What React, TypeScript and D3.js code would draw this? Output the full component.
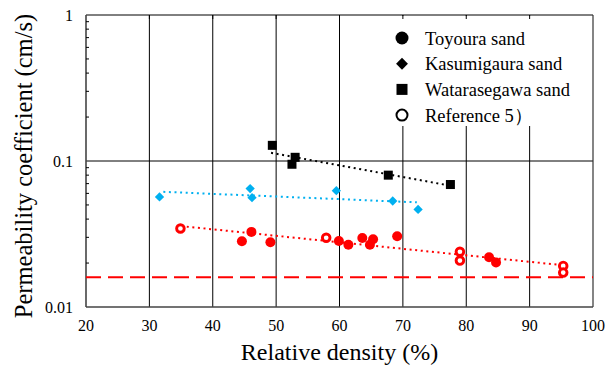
import * as d3 from "d3";
import { useRef, useEffect } from "react";

// Toyoura sand (filled red circles): [relative density %, k cm/s]
const toyoura: [number, number][] = [
  [44.6, 0.0282], [46.1, 0.0327], [49.1, 0.0278], [59.9, 0.0283],
  [61.4, 0.0267], [63.6, 0.0297], [64.8, 0.0267], [65.3, 0.0291],
  [69.1, 0.0305], [83.6, 0.0219], [84.7, 0.0202],
];
// Reference 5) (open red circles)
const reference5: [number, number][] = [
  [34.9, 0.0345], [57.9, 0.0298], [79.0, 0.0239], [79.0, 0.0208],
  [95.3, 0.0191], [95.3, 0.0172],
];
const kasumigaura: [number, number][] = [
  [31.6, 0.0567], [45.9, 0.0647], [46.2, 0.0561], [59.5, 0.0626],
  [68.4, 0.0532], [72.4, 0.0466],
];
const watarasegawa: [number, number][] = [
  [49.4, 0.128], [53.0, 0.106], [52.5, 0.095], [67.7, 0.080], [77.5, 0.069],
];
// trend lines (start, end)
const trendRed: [number, number][] = [[35.9, 0.0355], [94.9, 0.0194]];
const trendBlue: [number, number][] = [[32.2, 0.0615], [72.2, 0.0521]];
const trendBlack: [number, number][] = [[49.2, 0.1138], [76.8, 0.0686]];
const limitK = 0.016;

const xTicks = [20, 30, 40, 50, 60, 70, 80, 90, 100];
const yTicks = [0.01, 0.1, 1];
const legendItems = ["Toyoura sand", "Kasumigaura sand", "Watarasegawa sand", "Reference 5\uFF09"];

const RED = "#ff0000";
const BLUE = "#00b0f0";
const SERIF = '"Times New Roman", "Liberation Serif", Tinos, Times, serif';

export default function App() {
  const svgRef = useRef<SVGSVGElement | null>(null);
  const W = 610, H = 367;
  const left = 86, right = 593, top = 15, bottom = 307;
  const x = d3.scaleLinear().domain([20, 100]).range([left, right]);
  const y = d3.scaleLog().domain([0.01, 1]).range([bottom, top]);
  const line = d3.line<[number, number]>().x(d => x(d[0])).y(d => y(d[1]));

  useEffect(() => {
    document.body.style.fontFamily = SERIF;
    if (!svgRef.current) return;
    d3.select(svgRef.current).selectAll<SVGTextElement, unknown>("text")
      .attr("font-family", SERIF)
      .each(function () { this.style.setProperty("font-family", SERIF, "important"); });
  }, []);

  const minorY: number[] = [];
  [0.01, 0.1].forEach(dec => {
    for (let m = 2; m <= 9; m++) minorY.push(dec * m);
  });

  const diamond = d3.symbol().type(d3.symbolDiamond2).size(55)();
  const legDiamond = d3.symbol().type(d3.symbolDiamond2).size(90)();

  const legX = 402, legY0 = 38, legDy = 25.7;
  const ts = { fontFamily: SERIF };

  return (
    <svg ref={svgRef} width={W} height={H} fontFamily={SERIF}
      style={{ position: "absolute", left: 0, top: 0, background: "#fff", fontFamily: SERIF }}>
      <rect x={0} y={0} width={W} height={H} fill="#fff" />
      {/* gridlines */}
      {xTicks.slice(1, -1).map(t => (
        <line key={"gx" + t} x1={x(t)} x2={x(t)} y1={top} y2={bottom} stroke="#000" strokeWidth={1} />
      ))}
      <line x1={left} x2={right} y1={y(0.1)} y2={y(0.1)} stroke="#000" strokeWidth={1} />
      {/* legend box hides gridlines */}
      <rect x={352} y={top + 1} width={right - 353} height={110} fill="#fff" />
      {/* top ticks */}
      {xTicks.slice(1, -1).map(t => (
        <line key={"tt" + t} x1={x(t)} x2={x(t)} y1={top} y2={top + 4} stroke="#000" strokeWidth={1} />
      ))}
      {/* frame */}
      <line x1={left} x2={right} y1={top} y2={top} stroke="#000" strokeWidth={1} />
      <line x1={right} x2={right} y1={top} y2={bottom} stroke="#333" strokeWidth={1.2} />
      <line x1={left} x2={right} y1={bottom} y2={bottom} stroke="#444" strokeWidth={1.6} />
      <line x1={left} x2={left} y1={top} y2={bottom} stroke="#444" strokeWidth={1.6} />
      {/* minor y ticks */}
      {minorY.map(v => (
        <line key={"my" + v} x1={left} x2={left + 3} y1={y(v)} y2={y(v)} stroke="#000" strokeWidth={1} />
      ))}
      {/* limit line */}
      <line x1={left} x2={right} y1={y(limitK)} y2={y(limitK)} stroke={RED} strokeWidth={2}
        strokeDasharray="15,7" />
      {/* trend lines */}
      <path d={line(trendBlack) ?? ""} fill="none" stroke="#000" strokeWidth={2} strokeDasharray="2,3.6" />
      <path d={line(trendBlue) ?? ""} fill="none" stroke={BLUE} strokeWidth={2} strokeDasharray="2,3.6" />
      <path d={line(trendRed) ?? ""} fill="none" stroke={RED} strokeWidth={2} strokeDasharray="2,3.6" />
      {/* points */}
      {watarasegawa.map((d, i) => (
        <rect key={"w" + i} x={x(d[0]) - 4.5} y={y(d[1]) - 4.5} width={9} height={9} fill="#000" />
      ))}
      {kasumigaura.map((d, i) => (
        <path key={"k" + i} d={diamond ?? ""} transform={`translate(${x(d[0])},${y(d[1])})`} fill={BLUE} />
      ))}
      {toyoura.map((d, i) => (
        <circle key={"t" + i} cx={x(d[0])} cy={y(d[1])} r={5} fill={RED} />
      ))}
      {reference5.map((d, i) => (
        <circle key={"r" + i} cx={x(d[0])} cy={y(d[1])} r={3.8} fill="#fff" stroke={RED} strokeWidth={2.9} />
      ))}
      {/* tick labels */}
      {xTicks.map(t => (
        <text key={"xl" + t} x={x(t)} y={331} textAnchor="middle" fontSize={16} fill="#000" style={ts}>{t}</text>
      ))}
      {yTicks.map(t => (
        <text key={"yl" + t} x={73} y={y(t)} dy="0.35em" textAnchor="end" fontSize={16} fill="#000" style={ts}>{t}</text>
      ))}
      {/* axis titles */}
      <text x={(left + right) / 2} y={360} textAnchor="middle" fontSize={24} fill="#000" style={ts}>Relative density (%)</text>
      <text transform={`translate(32,${(top + bottom) / 2 + 5}) rotate(-90)`} textAnchor="middle" fontSize={24.5}
        fill="#000" style={ts}>Permeability coefficient (cm/s)</text>
      {/* legend */}
      <g fill="#000">
        <circle cx={legX} cy={legY0} r={6.5} fill="#000" />
        <path d={legDiamond ?? ""} transform={`translate(${legX},${legY0 + legDy})`} fill="#000" />
        <rect x={legX - 5.5} y={legY0 + 2 * legDy - 5.5} width={11} height={11} fill="#000" />
        <circle cx={legX} cy={legY0 + 3 * legDy} r={5.5} fill="#fff" stroke="#000" strokeWidth={2} />
        {legendItems.map((s, i) => (
          <text key={s} x={425} y={legY0 + i * legDy + 6.5} fontSize={18.5} style={ts}>{s}</text>
        ))}
      </g>
    </svg>
  );
}
